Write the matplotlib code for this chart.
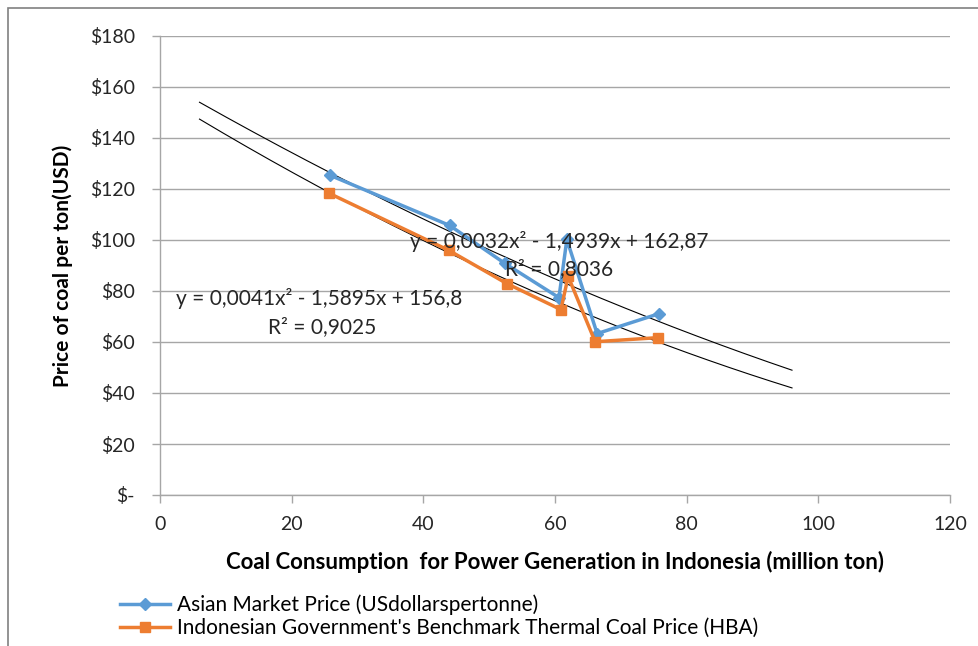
import numpy as np
import matplotlib
matplotlib.use("Agg")
import matplotlib.pyplot as plt
from matplotlib.patches import Rectangle

plt.rcParams['font.family'] = ['Lato', 'DejaVu Sans']

# Coal consumption (million ton) and prices (USD per ton)
asian_x = [25.8, 44.0, 52.4, 60.6, 61.8, 66.4, 75.8]
asian_y = [125.4, 105.7, 90.8, 77.4, 100.2, 63.3, 71.1]
hba_x = [25.7, 43.9, 52.7, 60.9, 62.0, 66.1, 75.6]
hba_y = [118.3, 95.9, 82.9, 72.7, 85.7, 60.1, 61.7]

# Polynomial trendline coefficients as printed on the chart
asian_coef = [0.0032, -1.4939, 162.87]
hba_coef = [0.0041, -1.5895, 156.8]
trend_range = [6, 96]

y_ticks = [0, 20, 40, 60, 80, 100, 120, 140, 160, 180]
y_labels = ["$-", "$20", "$40", "$60", "$80", "$100", "$120", "$140", "$160", "$180"]
x_ticks = [0, 20, 40, 60, 80, 100, 120]

BLUE = "#5B9BD5"
ORANGE = "#ED7D31"
GRID = "#A6A6A6"
TXT = "#262626"

fig = plt.figure(figsize=(9.79, 6.46), dpi=100)
ax = fig.add_axes([160 / 979, 1 - 495 / 646, 790 / 979, 459 / 646])

# outer chart border (top & left visible)
fig.patches.append(Rectangle((8 / 979, -0.1), 1.2, (646 - 8) / 646 + 0.1,
                             transform=fig.transFigure, fill=False,
                             edgecolor="#808080", linewidth=1.2))

ax.set_xlim(0, 120)
ax.set_ylim(0, 180)
ax.set_yticks(y_ticks)
ax.set_yticklabels(y_labels)
ax.set_xticks(x_ticks)
ax.grid(axis='y', color=GRID, linewidth=1)
ax.set_axisbelow(True)
for s in ['top', 'right']:
    ax.spines[s].set_visible(False)
for s in ['left', 'bottom']:
    ax.spines[s].set_color(GRID)
    ax.spines[s].set_linewidth(1)
ax.tick_params(axis='both', colors=GRID, labelcolor=TXT, labelsize=14, length=6, width=1)
ax.tick_params(axis='y', pad=12)
ax.tick_params(axis='x', pad=9)

# trendlines
tx = np.linspace(trend_range[0], trend_range[1], 200)
ax.plot(tx, np.polyval(asian_coef, tx), color="black", linewidth=0.8, zorder=2)
ax.plot(tx, np.polyval(hba_coef, tx), color="black", linewidth=0.8, zorder=2)

# series
ax.plot(asian_x, asian_y, color=BLUE, linewidth=2.5, marker='D', markersize=6,
        label="Asian Market Price (USdollarspertonne)", zorder=3)
ax.plot(hba_x, hba_y, color=ORANGE, linewidth=2.5, marker='s', markersize=7,
        label="Indonesian Government's Benchmark Thermal Coal Price (HBA)", zorder=3)

# trendline equations
eq_kw = dict(fontsize=15, color=TXT, va='center', zorder=4)
ax.text(38.0, 99.4, "y = 0,0032x² - 1,4939x + 162,87", **eq_kw)
ax.text(52.4, 88.4, "R² = 0,8036", **eq_kw)
ax.text(2.4, 77.0, "y = 0,0041x² - 1,5895x + 156,8", **eq_kw)
ax.text(16.4, 66.0, "R² = 0,9025", **eq_kw)

ax.set_ylabel("Price of coal per ton(USD)", fontsize=15, fontweight='bold', labelpad=12)
ax.set_xlabel("Coal Consumption  for Power Generation in Indonesia (million ton)",
              fontsize=16, fontweight='bold', labelpad=13)

leg = fig.legend(loc='upper left', bbox_to_anchor=(112 / 979, 1 - 586 / 646),
                 frameon=False, fontsize=15, handlelength=2.4, handletextpad=0.3,
                 labelspacing=0.15, borderaxespad=0)

fig.savefig("out.png", dpi=100, facecolor="white")
